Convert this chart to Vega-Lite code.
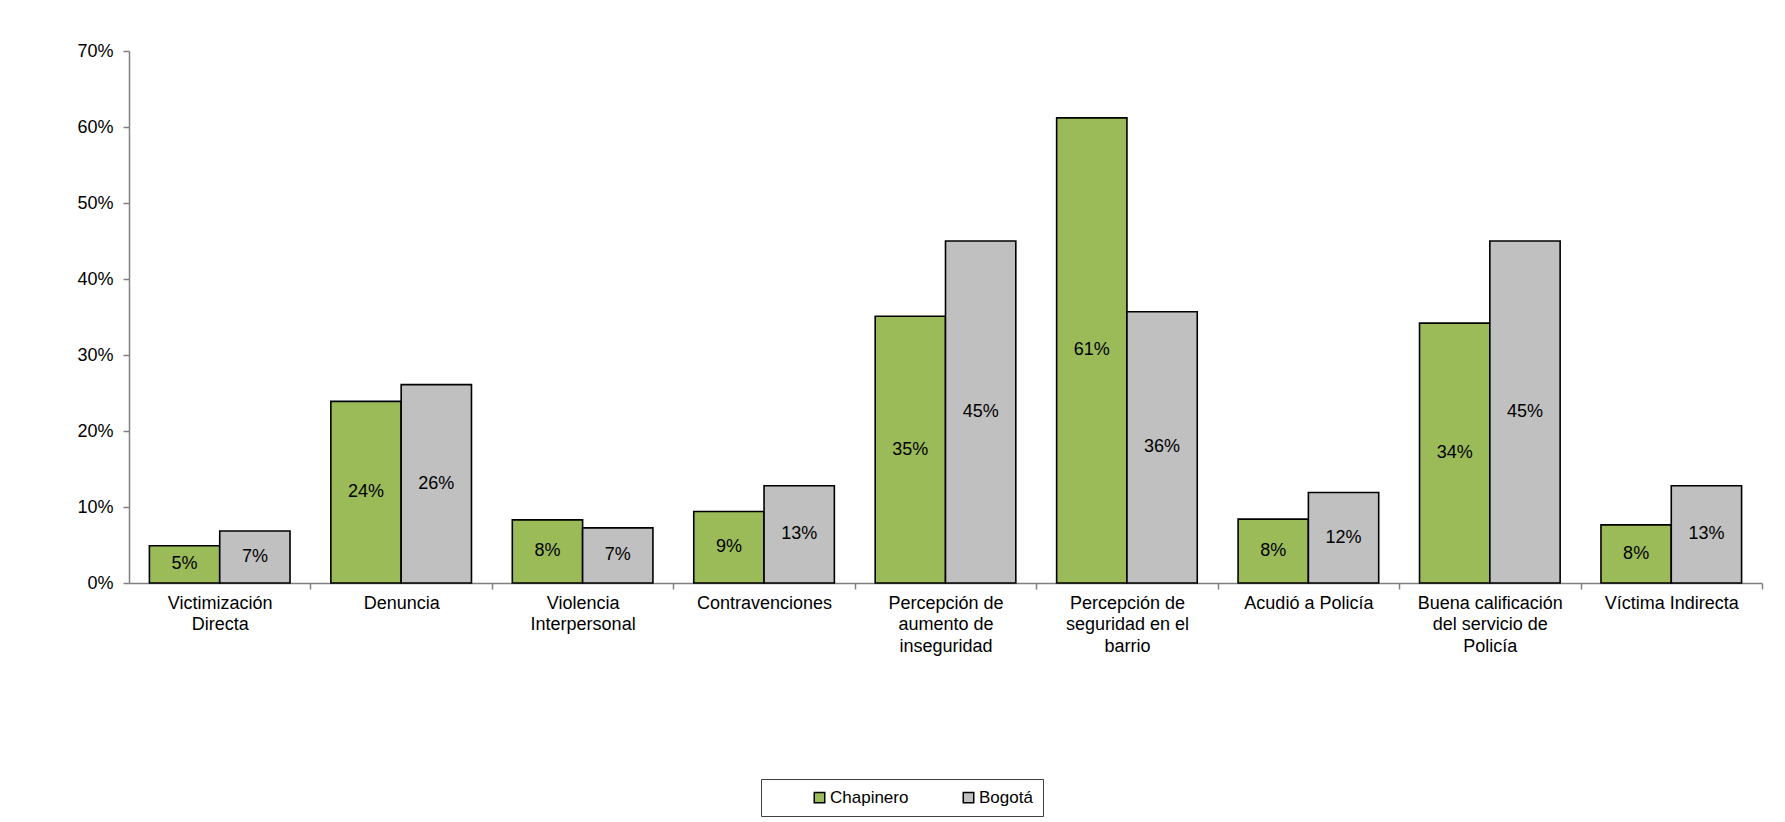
{
  "$schema": "https://vega.github.io/schema/vega-lite/v6.json",
  "width": 1633,
  "height": 532,
  "autosize": {"type": "none"},
  "padding": {"left": 129, "top": 51, "right": 23, "bottom": 239},
  "config": {"view": {"stroke": null}, "font": "Liberation Sans"},
  "data": {
    "values": [
      {"cat": "Victimización|Directa", "group": "Chapinero", "value": 0.049},
      {"cat": "Victimización|Directa", "group": "Bogotá", "value": 0.0685},
      {"cat": "Denuncia", "group": "Chapinero", "value": 0.239},
      {"cat": "Denuncia", "group": "Bogotá", "value": 0.261},
      {"cat": "Violencia|Interpersonal", "group": "Chapinero", "value": 0.083},
      {"cat": "Violencia|Interpersonal", "group": "Bogotá", "value": 0.0725},
      {"cat": "Contravenciones", "group": "Chapinero", "value": 0.094},
      {"cat": "Contravenciones", "group": "Bogotá", "value": 0.128},
      {"cat": "Percepción de|aumento de|inseguridad", "group": "Chapinero", "value": 0.351},
      {"cat": "Percepción de|aumento de|inseguridad", "group": "Bogotá", "value": 0.45},
      {"cat": "Percepción de|seguridad en el|barrio", "group": "Chapinero", "value": 0.612},
      {"cat": "Percepción de|seguridad en el|barrio", "group": "Bogotá", "value": 0.357},
      {"cat": "Acudió a Policía", "group": "Chapinero", "value": 0.084},
      {"cat": "Acudió a Policía", "group": "Bogotá", "value": 0.119},
      {"cat": "Buena calificación|del servicio de|Policía", "group": "Chapinero", "value": 0.342},
      {"cat": "Buena calificación|del servicio de|Policía", "group": "Bogotá", "value": 0.45},
      {"cat": "Víctima Indirecta", "group": "Chapinero", "value": 0.0765},
      {"cat": "Víctima Indirecta", "group": "Bogotá", "value": 0.128}
    ]
  },
  "transform": [{"calculate": "datum.value/2", "as": "mid"}],
  "encoding": {
    "x": {
      "field": "cat",
      "type": "nominal",
      "sort": null,
      "scale": {"paddingInner": 0.225, "paddingOuter": 0.1125},
      "axis": {
        "title": null,
        "labelExpr": "split(datum.label, '|')",
        "labelAngle": 0,
        "labelFontSize": 18,
        "labelColor": "black",
        "labelLineHeight": 21.6,
        "labelBaseline": "top",
        "labelPadding": 5,
        "labelLimit": 0,
        "labelOverlap": false,
        "labelBound": false,
        "domainColor": "#808080",
        "domainWidth": 1.5,
        "tickColor": "#808080",
        "tickWidth": 1.5,
        "tickSize": 6,
        "bandPosition": 1,
        "tickExtra": false,
        "tickOffset": 20.41,
        "labelOffset": -20.41
      }
    },
    "xOffset": {"field": "group", "type": "nominal", "sort": ["Chapinero", "Bogotá"]}
  },
  "layer": [
    {
      "mark": {"type": "bar", "stroke": "black", "strokeWidth": 1.6},
      "encoding": {
        "y": {
          "field": "value",
          "type": "quantitative",
          "scale": {"domain": [0, 0.7], "nice": false},
          "axis": {
            "title": null,
            "format": ".0%",
            "values": [0, 0.1, 0.2, 0.3, 0.4, 0.5, 0.6, 0.7],
            "labelFontSize": 18,
            "labelColor": "black",
            "labelPadding": 10,
            "domainColor": "#808080",
            "domainWidth": 1.5,
            "tickColor": "#808080",
            "tickWidth": 1.5,
            "tickSize": 6,
            "grid": false
          }
        },
        "color": {
          "field": "group",
          "type": "nominal",
          "scale": {"domain": ["Chapinero", "Bogotá"], "range": ["#9BBB59", "#C0C0C0"]},
          "legend": {
            "title": null,
            "orient": "none",
            "legendX": 632,
            "legendY": 728,
            "direction": "horizontal",
            "columns": 2,
            "gridAlign": "all",
            "strokeColor": "#404040",
            "padding": 10,
            "labelFontSize": 17,
            "labelColor": "black",
            "symbolType": "square",
            "symbolSize": 110,
            "symbolStrokeColor": "black",
            "symbolStrokeWidth": 1.5,
            "columnPadding": 11,
            "labelOffset": 2,
            "symbolOffset": 40
          }
        }
      }
    },
    {
      "mark": {"type": "text", "fontSize": 18, "color": "black", "baseline": "middle"},
      "encoding": {
        "y": {"field": "mid", "type": "quantitative"},
        "text": {"field": "value", "type": "quantitative", "format": ".0%"}
      }
    }
  ]
}
